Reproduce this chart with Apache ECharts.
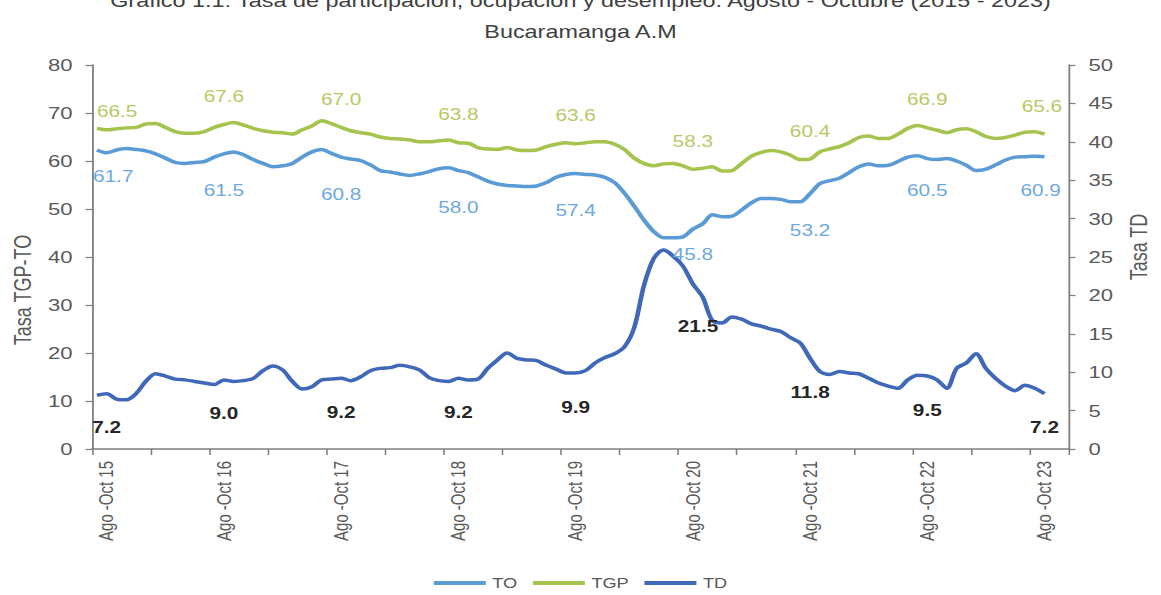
<!DOCTYPE html>
<html lang="es">
<head>
<meta charset="utf-8">
<title>Tasa de participación, ocupación y desempleo – Bucaramanga A.M</title>
<script src="https://cdn.jsdelivr.net/npm/echarts@6/dist/echarts.min.js"></script>
<style>
  html, body { margin: 0; padding: 0; background: #ffffff; overflow: hidden; }
  #wrap { width: 1161px; height: 595px; overflow: hidden; }
  /* the chart is laid out narrow and widened horizontally, giving the wide lettering */
  #chart { width: 893px; height: 595px; transform: scaleX(1.3001); transform-origin: 0 0; }
</style>
</head>
<body>
<div id="wrap"><div id="chart"></div></div>
<script>
// Rolling three-month periods, starting Jul-Sep 2015
const quarterNames = ['Ene-Mar', 'Feb-Abr', 'Mar-May', 'Abr-Jun', 'May-Jul', 'Jun-Ago',
                      'Jul-Sep', 'Ago-Oct', 'Sep-Nov', 'Oct-Dic', 'Nov-Ene', 'Dic-Feb'];
const firstQuarter = 6;      // Jul-Sep
const firstYear = 2015;
const periodCount = 98;      // Jul-Sep 15 ... Ago-Oct 23
const trailingSlots = ['', ''];

const categories = [];
for (let k = 0; k < periodCount; k++) {
  const q = firstQuarter + k;
  const yy = String((firstYear + Math.floor(q / 12)) % 100).padStart(2, '0');
  categories.push(quarterNames[q % 12] + ' ' + yy);
}

// Tasa global de participación (%)
const tgp = [
  66.8, 66.5, 66.7, 66.9, 67.0, 67.7, 67.8, 67.0, 66.1, 65.8,
  65.8, 66.1, 67.0, 67.6, 68.0, 67.5, 66.8, 66.3, 66.0, 65.9,
  65.6, 66.5, 67.3, 68.4, 67.8, 67.0, 66.3, 65.9, 65.6, 65.0,
  64.7, 64.6, 64.4, 64.0, 64.0, 64.2, 64.4, 63.8, 63.7, 62.8,
  62.5, 62.4, 62.8, 62.3, 62.2, 62.3, 63.0, 63.5, 63.8, 63.6,
  63.8, 64.0, 64.0, 63.5, 62.4, 60.6, 59.5, 59.0, 59.4, 59.5,
  59.0, 58.3, 58.5, 58.8, 57.9, 58.0, 59.5, 61.0, 61.8, 62.2,
  61.9, 61.2, 60.3, 60.4, 61.9, 62.5, 63.0, 63.8, 64.9, 65.2,
  64.7, 64.7, 65.6, 66.8, 67.4, 66.9, 66.4, 65.9, 66.5, 66.7,
  66.1, 65.1, 64.7, 64.9, 65.4, 66.0, 66.1, 65.6
];

// Tasa de ocupación (%)
const to = [
  62.3, 61.7, 62.3, 62.6, 62.4, 62.1, 61.5, 60.6, 59.7, 59.5,
  59.7, 59.9, 60.8, 61.5, 61.9, 61.3, 60.3, 59.5, 58.8, 59.0,
  59.5, 60.8, 61.9, 62.4, 61.6, 60.8, 60.4, 60.1, 59.2, 58.0,
  57.7, 57.3, 57.0, 57.3, 57.8, 58.4, 58.6, 58.0, 57.6, 56.7,
  55.8, 55.2, 54.9, 54.8, 54.7, 54.8, 55.5, 56.6, 57.2, 57.4,
  57.2, 57.1, 56.6, 55.5, 53.3, 50.6, 47.7, 45.3, 44.0, 44.0,
  44.2, 45.8, 46.9, 48.8, 48.4, 48.5, 49.8, 51.3, 52.2, 52.2,
  52.0, 51.5, 51.5, 53.2, 55.3, 55.9, 56.4, 57.6, 58.8, 59.4,
  59.0, 59.1, 59.9, 60.8, 61.1, 60.5, 60.3, 60.5, 60.0, 59.1,
  58.0, 58.3, 59.2, 60.2, 60.8, 60.9, 61.0, 60.9
];

// Tasa de desempleo (%)
const td = [
  7.0, 7.2, 6.5, 6.4, 7.2, 8.8, 9.8, 9.5, 9.1, 9.0,
  8.8, 8.6, 8.4, 9.0, 8.8, 8.9, 9.2, 10.2, 10.8, 10.3,
  8.8, 7.8, 8.1, 9.0, 9.1, 9.2, 8.9, 9.4, 10.2, 10.5,
  10.6, 10.9, 10.7, 10.3, 9.3, 8.9, 8.8, 9.2, 9.0, 9.1,
  10.5, 11.6, 12.5, 11.8, 11.6, 11.5, 10.9, 10.4, 9.9, 9.9,
  10.2, 11.2, 11.9, 12.4, 13.3, 15.8, 21.3, 24.8, 25.9, 25.1,
  23.8, 21.5, 19.8, 16.7, 16.4, 17.2, 16.9, 16.3, 16.0, 15.6,
  15.3, 14.5, 13.8, 11.8, 10.1, 9.7, 10.1, 9.9, 9.8, 9.2,
  8.6, 8.2, 7.9, 9.0, 9.6, 9.5, 9.0, 7.9, 10.5, 11.2,
  12.4, 10.5, 9.2, 8.2, 7.6, 8.3, 7.9, 7.2
];

// Every Ago-Oct period carries a value label and an axis label
const isAgoOct = (k) => k % 12 === 1;

// Per-point label placement tweaks
const tgpLabelTweaks = { 1: { distance: 10, offset: [8, 0] }, 97: { offset: [-2, 0] } };
const toLabelTweaks = { 1: { distance: 16, offset: [5, 0] }, 61: { distance: 17 }, 85: { distance: 24 }, 97: { distance: 26, offset: [-3, 0] } };
const tdLabelTweaks = { 61: { distance: 35, offset: [4, 0] } };

function withLabels(values, tweaks) {
  return values.map((v, k) => isAgoOct(k)
    ? { value: v, label: Object.assign({ show: true }, tweaks[k] || {}) }
    : v);
}

const FONT = '"Liberation Sans", Arial, sans-serif';
const AXIS_GREY = '#7f7f7f';
const TEXT_GREY = '#595959';

const colTO = '#5b9bd5';
const colTGP = '#a5c44e';
const colTD = '#4068b8';

function lineSeries(name, axis, values, tweaks, color, labelStyle) {
  return {
    name: name, type: 'line', yAxisIndex: axis,
    data: withLabels(values, tweaks),
    // invisible point markers keep the value labels anchored to the points
    symbol: 'circle', symbolSize: 0, showSymbol: true, showAllSymbol: true,
    smooth: 0.3,
    lineStyle: { width: 3.5, color: color },
    itemStyle: { color: color },
    label: Object.assign({ fontFamily: FONT, fontSize: 16, formatter: (p) => p.value.toFixed(1) }, labelStyle)
  };
}

const chart = echarts.init(document.getElementById('chart'), null, { renderer: 'svg' });

chart.setOption({
  backgroundColor: '#ffffff',
  textStyle: { fontFamily: FONT },
  animation: false,
  title: [
    {
      text: 'Gráfico 1.1: Tasa de participación, ocupación y desempleo. Agosto - Octubre (2015 - 2023)',
      left: 'center', top: -9, padding: 0,
      textStyle: { fontFamily: FONT, fontSize: 18, fontWeight: 'normal', color: '#404040', lineHeight: 20 }
    },
    {
      text: 'Bucaramanga A.M',
      left: 'center', top: 22, padding: 0,
      textStyle: { fontFamily: FONT, fontSize: 18, fontWeight: 'normal', color: '#404040', lineHeight: 20 }
    }
  ],
  legend: {
    data: ['TO', 'TGP', 'TD'],
    left: 'center', top: 571,
    icon: 'rect',
    itemWidth: 40, itemHeight: 4, itemGap: 12,
    textStyle: { fontFamily: FONT, fontSize: 14, color: TEXT_GREY }
  },
  grid: { left: 68, right: 57, top: 65, bottom: 146, containLabel: false },
  xAxis: {
    type: 'category',
    data: categories.concat(trailingSlots),
    boundaryGap: true,
    axisLine: { show: true, lineStyle: { color: AXIS_GREY, width: 1.6 } },
    axisTick: { show: true, interval: 5, length: 6, lineStyle: { color: AXIS_GREY, width: 1.2 } },
    axisLabel: {
      interval: (k) => isAgoOct(k),
      rotate: 90, margin: 12,
      fontFamily: FONT, fontSize: 15, color: TEXT_GREY,
      formatter: (v) => v.replace('-', ' -')
    },
    splitLine: { show: false }
  },
  yAxis: [
    {
      type: 'value', position: 'left', min: 0, max: 80, interval: 10,
      name: 'Tasa TGP-TO', nameLocation: 'middle', nameRotate: 90, nameGap: 39,
      nameTextStyle: { fontFamily: FONT, fontSize: 18, color: TEXT_GREY, padding: [0, 66, 0, 0] },
      axisLine: { show: true, lineStyle: { color: AXIS_GREY, width: 1.4 } },
      axisTick: { show: true, length: 5, lineStyle: { color: AXIS_GREY, width: 1.2 } },
      axisLabel: { margin: 15, fontFamily: FONT, fontSize: 17, color: TEXT_GREY },
      splitLine: { show: false }
    },
    {
      type: 'value', position: 'right', min: 0, max: 50, interval: 5,
      name: 'Tasa TD', nameLocation: 'middle', nameRotate: 90, nameGap: 38,
      nameTextStyle: { fontFamily: FONT, fontSize: 18, color: TEXT_GREY, padding: [0, 0, 0, 20] },
      axisLine: { show: true, lineStyle: { color: AXIS_GREY, width: 1.4 } },
      axisTick: { show: true, length: 5, lineStyle: { color: AXIS_GREY, width: 1.2 } },
      axisLabel: { margin: 15, fontFamily: FONT, fontSize: 17, color: TEXT_GREY },
      splitLine: { show: false }
    }
  ],
  series: [
    lineSeries('TO', 0, to, toLabelTweaks, colTO,
      { position: 'bottom', distance: 29, color: '#6ea8de' }),
    lineSeries('TGP', 0, tgp, tgpLabelTweaks, colTGP,
      { position: 'top', distance: 20, color: '#b7c964' }),
    lineSeries('TD', 1, td, tdLabelTweaks, colTD,
      { position: 'bottom', distance: 26, fontWeight: 'bold', color: '#262626' })
  ]
});
</script>
</body>
</html>
